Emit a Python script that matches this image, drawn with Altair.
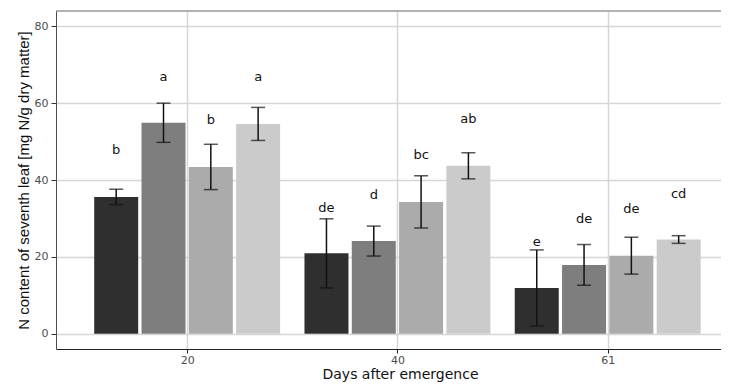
import altair as alt
import pandas as pd

groups = ["20", "40", "61"]
treatments = ["T1", "T2", "T3", "T4"]
fill_colors = ["#2f2f2f", "#7e7e7e", "#ababab", "#cbcbcb"]

means_20 = [35.6, 54.9, 43.4, 54.6]
means_40 = [20.9, 24.1, 34.3, 43.7]
means_61 = [11.9, 17.9, 20.3, 24.5]

err_20 = [2.0, 5.1, 5.9, 4.3]
err_40 = [9.0, 3.9, 6.8, 3.4]
err_61 = [9.9, 5.3, 4.8, 1.0]

letters_20 = ["b", "a", "b", "a"]
letters_40 = ["de", "d", "bc", "ab"]
letters_61 = ["e", "de", "de", "cd"]

letter_y_20 = [47.7, 66.9, 55.6, 66.7]
letter_y_40 = [32.8, 36.2, 46.5, 55.9]
letter_y_61 = [23.9, 29.8, 32.4, 36.4]

means = [means_20, means_40, means_61]
errs = [err_20, err_40, err_61]
letters = [letters_20, letters_40, letters_61]
letter_ys = [letter_y_20, letter_y_40, letter_y_61]

rows = []
dodge = 0.9 / len(treatments)
for gi, g in enumerate(groups):
    for ti, t in enumerate(treatments):
        m = means[gi][ti]
        e = errs[gi][ti]
        rows.append({
            "group": g,
            "treatment": t,
            "pos": gi + (ti - 1.5) * dodge,
            "mean": m,
            "lo": m - e,
            "hi": m + e,
            "letter": letters[gi][ti],
            "ly": letter_ys[gi][ti],
        })
df = pd.DataFrame(rows)

W, H = 665, 338
PAD_TOP, PAD_BOTTOM = 3, 35
FONT = "DejaVu Sans"
YFONT = "Liberation Sans"
GRID = "#d6d6d6"

xscale = alt.Scale(domain=[-0.6, 2.515], nice=False, zero=False)
yscale = alt.Scale(domain=[-4, 84], nice=False, zero=False)

x_axis = alt.Axis(
    values=[0, 1, 2],
    labelExpr="['20','40','61'][datum.value]",
    title="Days after emergence",
    titleFont=FONT, titleFontSize=14, titleFontWeight="normal", titleColor="#111111",
    titleX=344, titleY=29, titleBaseline="alphabetic", titleAlign="center",
    labelFont=FONT, labelFontSize=11, labelColor="#4d4d4d", labelPadding=1,
    tickSize=4, tickColor="#222222", tickWidth=1,
    domainColor="#222222", domainWidth=1,
    grid=True, gridColor=GRID, gridWidth=1.5,
)
y_axis = alt.Axis(
    values=[0, 20, 40, 60, 80],
    title="N content of seventh leaf [mg N/g dry matter]",
    titleFont=YFONT, titleFontSize=15, titleFontWeight="normal", titleColor="#111111",
    titleX=-33, titleY=H / 2, titleAngle=270, titleAlign="center", titleBaseline="middle",
    labelFont=FONT, labelFontSize=11, labelColor="#4d4d4d", labelPadding=3,
    tickSize=5, tickColor="#333333", tickWidth=1,
    domainColor="#4d4d4d", domainWidth=1,
    grid=True, gridColor=GRID, gridWidth=1.5,
)

base = alt.Chart(df)

bars = base.mark_bar(size=44).encode(
    x=alt.X("pos:Q", scale=xscale, axis=x_axis),
    y=alt.Y("mean:Q", scale=yscale, axis=y_axis),
    y2=alt.datum(0),
    color=alt.Color("treatment:N", scale=alt.Scale(domain=treatments, range=fill_colors), legend=None),
)

errbar = base.mark_rule(color="#111111", strokeWidth=1.5).encode(
    x="pos:Q", y="lo:Q", y2="hi:Q"
)
cap_hi = base.mark_tick(orient="horizontal", size=14, thickness=1.5, color="#111111").encode(
    x="pos:Q", y="hi:Q"
)
cap_lo = base.mark_tick(orient="horizontal", size=14, thickness=1.5, color="#111111").encode(
    x="pos:Q", y="lo:Q"
)
labels = base.mark_text(font=FONT, fontSize=13, color="#111111", baseline="middle", align="center").encode(
    x="pos:Q", y="ly:Q", text="letter:N"
)
top_border = alt.Chart(pd.DataFrame({"k": [0]})).mark_rule(color="#666666", strokeWidth=1).encode(
    x=alt.value(0), x2=alt.value(W), y=alt.value(0)
)

chart = alt.layer(bars, errbar, cap_hi, cap_lo, labels, top_border).properties(
    width=W, height=H,
    autosize=alt.AutoSizeParams(type="none"),
    padding={"left": 48, "top": PAD_TOP, "right": 0, "bottom": PAD_BOTTOM},
).configure(background="white").configure_view(stroke=None, strokeWidth=0)

chart.save("out.html", embed_options={"renderer": "svg", "actions": False})
